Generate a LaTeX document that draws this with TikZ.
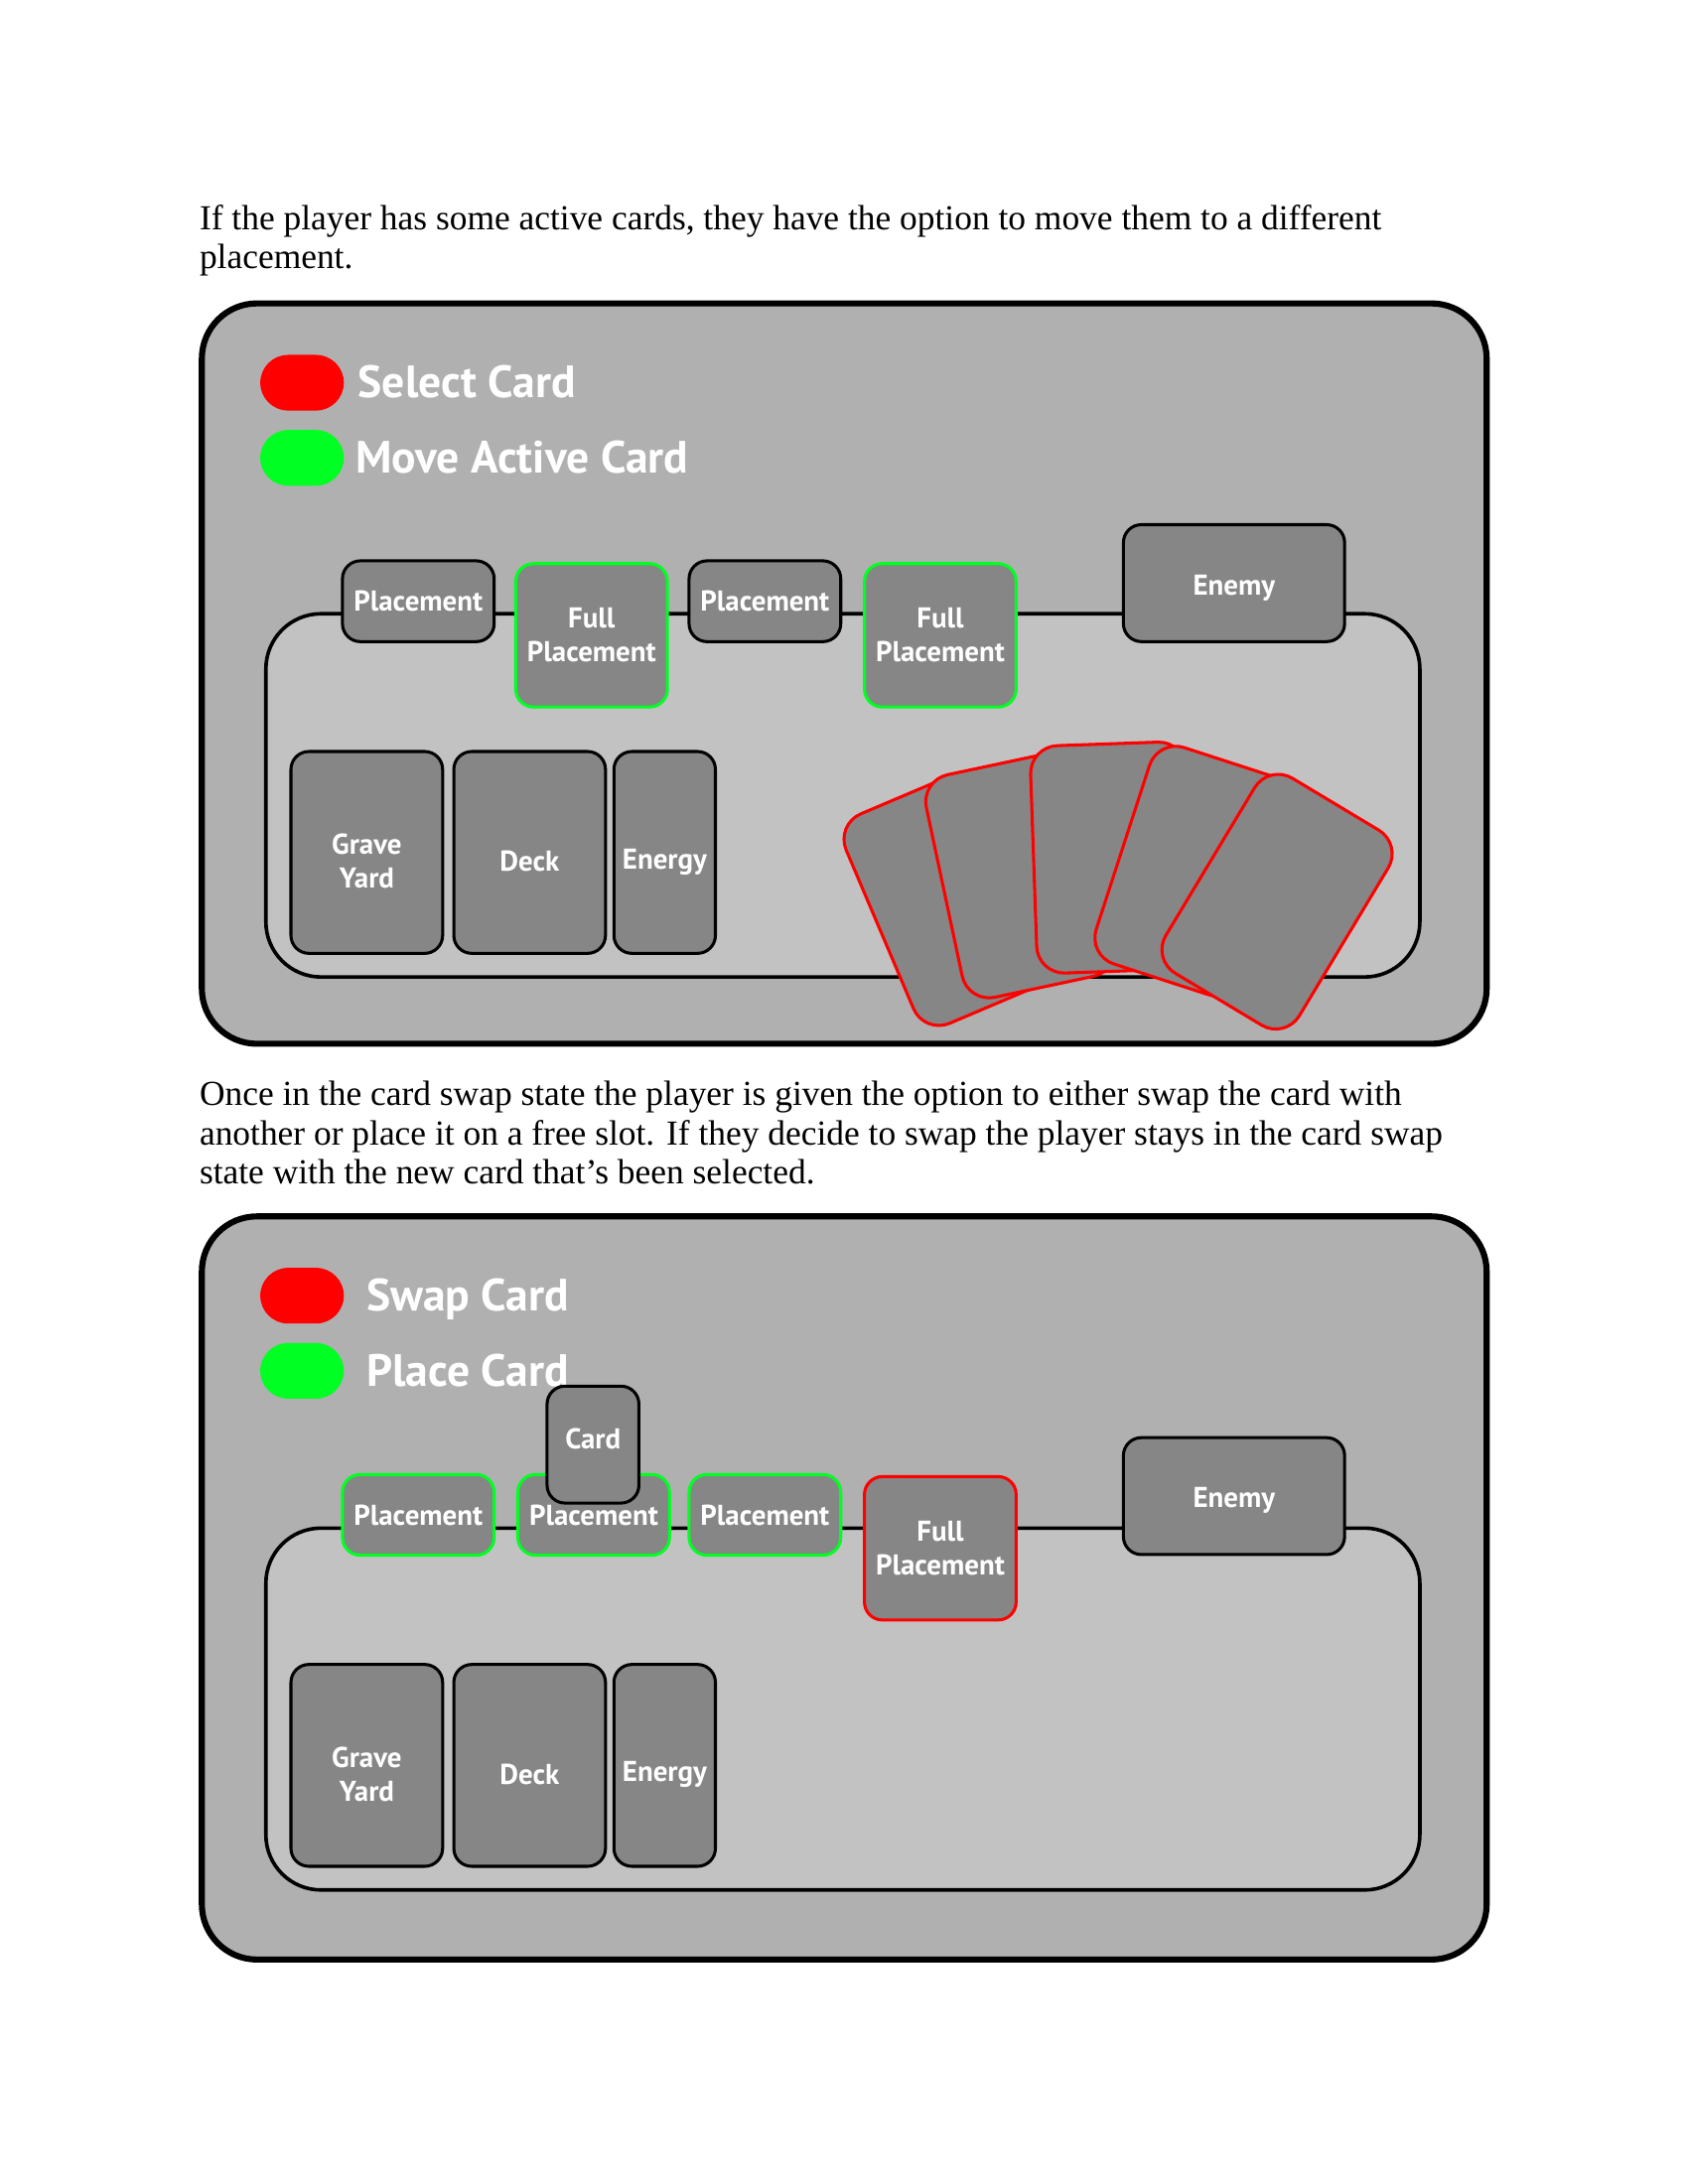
\documentclass[tikz,border=0pt]{standalone}
\usepackage{fontspec}
\setmainfont{Liberation Serif}
\newfontfamily\labelfont{PT Sans}
\usetikzlibrary{positioning}

\definecolor{panelgray}{RGB}{176,176,176}
\definecolor{trackgray}{RGB}{194,194,194}
\definecolor{slotgray}{RGB}{134,134,134}
\definecolor{selred}{RGB}{255,0,0}
\definecolor{selgreen}{RGB}{0,255,34}

\tikzset{
  panel/.style={draw=black, line width=2.2pt, fill=panelgray, rounded corners=20pt},
  track/.style={draw=black, line width=1.3pt, fill=trackgray, rounded corners=20pt},
  slot/.style={draw=black, line width=1.1pt, fill=slotgray, rounded corners=6.5pt,
    text=white, font=\labelfont\bfseries\fontsize{10.4}{12.2}\selectfont,
    align=center, inner sep=0pt},
  small/.style={slot, minimum width=55pt, minimum height=29.3pt},
  tall/.style={slot, minimum width=55pt, minimum height=52pt},
  pile/.style={slot, minimum width=55pt, minimum height=73.2pt},
  foe/.style={slot, minimum width=80.2pt, minimum height=42.4pt},
  held/.style={slot, minimum width=33.3pt, minimum height=42.4pt},
  hand/.style={slot, draw=selred, minimum width=56.5pt, minimum height=82.5pt, rounded corners=10pt},
  pill/.style={rounded corners=10.1pt, minimum width=30.3pt, minimum height=20.2pt, inner sep=0pt},
  legend/.style={text=white, font=\labelfont\bfseries\fontsize{16.4}{19}\selectfont,
    anchor=base west, inner sep=0pt},
  body/.style={anchor=base west, inner sep=0pt, align=left,
    font=\fontsize{12.75}{14.2}\selectfont}
}
% struts that drop (or lift) a label inside its box
\newcommand{\dropstrut}[1]{\rule{0pt}{#1}}
\newcommand{\liftstrut}[1]{\rule[-#1]{0pt}{#1}}

\begin{document}
\begin{tikzpicture}[x=0.5047pt,y=-0.5047pt]
  \useasboundingbox (0,0) rectangle (1212.6,1569.3);

  % first state
  \node[body] (intro) at (143,193.3) {If the player has some active cards, they have the option to move them to a different\\placement.};
  \draw[panel] (145,218) rectangle (1068,750);
  \node[pill, fill=selred] (selpill) at (217,275) {};
  \node[pill, fill=selgreen] (movepill) at (217,329) {};
  \node[legend] (seltext) at (257,286) {Select Card};
  \node[legend] (movetext) at (255,340) {Move Active Card};
  \draw[track] (191,441) rectangle (1020,702);
  \node[small] (place1) at (300.5,432) {Placement};
  \node[tall, draw=selgreen] (full1) at (425,456.5) {Full\\Placement};
  \node[small] (place2) at (549.5,432) {Placement};
  \node[tall, draw=selgreen] (full2) at (675.5,456.5) {Full\\Placement};
  \node[foe] (enemy) at (886.5,419) {\dropstrut{10.5pt}Enemy};
  \node[pile] (grave) at (263.5,612.5) {\dropstrut{14pt}Grave\\Yard};
  \node[pile] (deck) at (380.5,612.5) {\dropstrut{14pt}Deck};
  \node[pile, minimum width=36.8pt] (energy) at (477.5,612.5) {\dropstrut{14pt}Energy};
  % hand of cards
  \node[hand, rotate=23] (card1) at (683.6,645.9) {};
  \node[hand, rotate=12] (card2) at (733.1,629.1) {};
  \node[hand, rotate=2] (card3) at (798.5,616.2) {};
  \node[hand, rotate=-18] (card4) at (859.9,626.1) {};
  \node[hand, rotate=-31] (card5) at (917.4,647.9) {};

  % card swap state
  \node[body] (swapinfo) at (143,850.6) {Once in the card swap state the player is given the option to either swap the card with\\another or place it on a free slot. If they decide to swap the player stays in the card swap\\state with the new card that’s been selected.};
  \draw[panel] (145,874) rectangle (1068,1408);
  \node[pill, fill=selred] (swappill) at (217,931) {};
  \node[pill, fill=selgreen] (placepill) at (217,985) {};
  \node[legend] (swaptext) at (263,942) {Swap Card};
  \node[legend] (placetext) at (263,996) {Place Card};
  \draw[track] (191,1098) rectangle (1020,1358);
  \node[small, draw=selgreen] (slot1) at (300.5,1088.5) {Placement};
  \node[small, draw=selgreen] (slot2) at (426.5,1088.5) {Placement};
  \node[small, draw=selgreen] (slot3) at (549.5,1088.5) {Placement};
  \node[tall, draw=selred] (fullslot) at (675.5,1112.5) {Full\\Placement};
  \node[foe] (enemy2) at (886.5,1075) {\dropstrut{10.5pt}Enemy};
  \node[held] (heldcard) at (426,1038) {\liftstrut{4pt}Card};
  \node[pile] (grave2) at (263.5,1268.5) {\dropstrut{14pt}Grave\\Yard};
  \node[pile] (deck2) at (380.5,1268.5) {\dropstrut{14pt}Deck};
  \node[pile, minimum width=36.8pt] (energy2) at (477.5,1268.5) {\dropstrut{14pt}Energy};
\end{tikzpicture}
\end{document}
